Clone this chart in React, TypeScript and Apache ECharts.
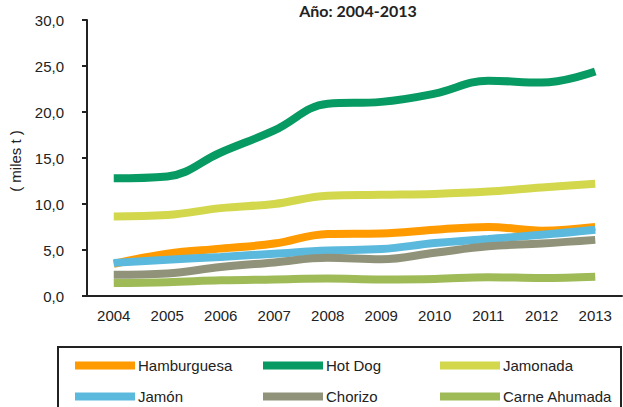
import React, { useEffect, useRef } from "react";
import * as echarts from "echarts";

const years = ["2004", "2005", "2006", "2007", "2008", "2009", "2010", "2011", "2012", "2013"];
const seriesNames = ["Hamburguesa", "Hot Dog", "Jamonada", "Jamón", "Chorizo", "Carne Ahumada"];
const hamburguesa = [3.5, 4.6, 5.15, 5.7, 6.75, 6.8, 7.2, 7.5, 7.1, 7.5];
const hotDog = [12.8, 13.0, 15.6, 18.0, 20.9, 21.1, 22.0, 23.4, 23.2, 24.4];
const jamonada = [8.65, 8.8, 9.55, 10.0, 10.9, 11.0, 11.1, 11.35, 11.8, 12.2];
const jamon = [3.6, 3.95, 4.25, 4.6, 4.95, 5.1, 5.75, 6.2, 6.65, 7.2];
const chorizo = [2.3, 2.45, 3.15, 3.65, 4.15, 4.0, 4.7, 5.4, 5.7, 6.1];
const carneAhumada = [1.4, 1.5, 1.7, 1.8, 1.9, 1.8, 1.85, 2.05, 1.95, 2.1];
const seriesData = [hamburguesa, hotDog, jamonada, jamon, chorizo, carneAhumada];
const colors = ["#FF9A00", "#079A63", "#D3D74C", "#5BB9DD", "#90937A", "#9EBB58"];

const SANS = "'Liberation Sans', Arial, sans-serif";

export default function App() {
  const ref = useRef<HTMLDivElement>(null);
  useEffect(() => {
    if (!ref.current) return;
    const chart = echarts.init(ref.current, null, { renderer: "svg" });
    const legendPos = [
      { left: 75, top: 358 },
      { left: 263, top: 358 },
      { left: 440, top: 358 },
      { left: 75, top: 389 },
      { left: 263, top: 389 },
      { left: 440, top: 389 },
    ];
    chart.setOption({
      animation: false,
      backgroundColor: "#fff",
      title: {
        text: "Año: 2004-2013",
        left: 358,
        top: 2,
        padding: 0,
        textAlign: "center",
        textStyle: { fontFamily: "Lato, 'Liberation Sans', sans-serif", fontWeight: "bold", fontSize: 16, color: "#222" },
      },
      grid: { left: 87, right: 1, top: 20, bottom: 111 },
      legend: seriesNames.map((n, i) => ({
        data: [n],
        left: legendPos[i].left,
        top: legendPos[i].top,
        padding: 0,
        icon: "rect",
        itemWidth: 60,
        itemHeight: 8,
        itemGap: 0,
        textStyle: { fontFamily: SANS, fontSize: 15, color: "#222", padding: [0, 0, 0, -2] },
        selectedMode: false,
      })),
      xAxis: {
        type: "category",
        data: years,
        boundaryGap: true,
        axisLine: { lineStyle: { color: "#222", width: 2 } },
        axisTick: { length: 5, lineStyle: { color: "#222", width: 2 } },
        axisLabel: { fontFamily: SANS, fontSize: 15, color: "#222", margin: 12 },
      },
      yAxis: {
        type: "value",
        min: 0,
        max: 30,
        interval: 5,
        splitLine: { show: false },
        axisLine: { show: true, lineStyle: { color: "#222", width: 2 } },
        axisTick: { show: true, length: 5, lineStyle: { color: "#222", width: 2 } },
        axisLabel: {
          fontFamily: SANS,
          fontSize: 15,
          color: "#222",
          margin: 23,
          formatter: (v: number) => v.toFixed(1).replace(".", ","),
        },
      },
      graphic: [
        {
          type: "text",
          x: 15,
          y: 161,
          rotation: Math.PI / 2,
          style: {
            text: "( miles t )",
            fontFamily: SANS,
            fontSize: 15,
            fill: "#222",
            textAlign: "center",
            textVerticalAlign: "middle",
          },
        },
        {
          type: "rect",
          shape: { x: 58, y: 347, width: 563, height: 90 },
          style: { fill: "none", stroke: "#222", lineWidth: 2 },
        },
      ],
      series: seriesNames.map((n, i) => ({
        name: n,
        type: "line",
        data: seriesData[i],
        smooth: 0.4,
        showSymbol: false,
        symbol: "none",
        color: colors[i],
        lineStyle: { width: 8, color: colors[i] },
      })),
    });
    return () => chart.dispose();
  }, []);
  return <div ref={ref} style={{ position: "fixed", left: 0, top: 0, width: 623, height: 407 }} />;
}
